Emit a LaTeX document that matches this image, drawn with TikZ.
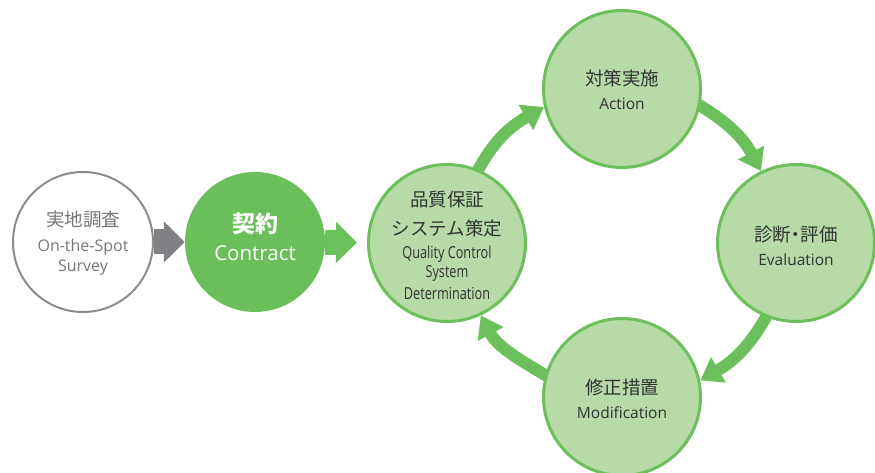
\documentclass[tikz,border=0pt]{standalone}
\usepackage{fontspec}
\setmainfont{Open Sans}
\newfontfamily\jp{Noto Sans CJK JP}
\usetikzlibrary{arrows.meta,backgrounds}
\definecolor{gdark}{HTML}{6ABF5B}
\definecolor{glight}{HTML}{B6DBA6}
\definecolor{gline}{HTML}{6CC05C}
\definecolor{garrow}{HTML}{808085}
\definecolor{gring}{HTML}{8C8C8C}
\definecolor{tgray}{HTML}{777777}
\definecolor{tdark}{HTML}{333333}
\tikzset{
  ring/.style={circle, draw=gline, line width=3pt, fill=glight, minimum size=157pt, inner sep=0pt},
  cyc/.style={draw=gline, line width=12pt, -{Triangle[width=28pt,length=21pt]}, shorten <=-8pt},
  blockarrow/.style={line width=25pt, -{Triangle[width=40pt,length=21pt]}},
  jt/.style={font=\jp\fontsize{18.5}{20}\selectfont, text=tdark, inner sep=0pt},
  et/.style={font=\fontsize{15.5}{18}\selectfont, text=tdark, inner sep=0pt},
  qt/.style={font=\fontsize{16.5}{18}\selectfont, text=tdark, inner sep=0pt},
}
\begin{document}
\begin{tikzpicture}[x=1pt,y=1pt]
\useasboundingbox (0,0) rectangle (875,473);
% circles
\node[circle, draw=gring, line width=2pt, fill=white, minimum size=140pt, inner sep=0pt] (n1) at (83,231) {};
\node[circle, fill=gdark, minimum size=140pt, inner sep=0pt] (n2) at (255,231) {};
\node[ring] (n3) at (447,230) {};
\node[ring] (n4) at (622,384) {};
\node[ring] (n5) at (796,230) {};
\node[ring] (n6) at (622,76) {};
% arrows
\begin{scope}[on background layer]
\draw[blockarrow, draw=garrow] (n1) -- (n2);
\draw[blockarrow, draw=gline, shorten >=10pt] (n2) -- (n3);
\draw[cyc] (n3.67) to[out=63,in=210] (n4.193);
\draw[cyc] (n4.-12) to[out=-30,in=118] (n5.116);
\draw[cyc] (n5.248) to[out=242,in=30] (n6.12);
\draw[cyc] (n6.164) to[out=150,in=-62] (n3.295);
\end{scope}
% texts
\node[jt, text=tgray] (t1a) at (83,253) {実地調査};
\node[et, text=tgray, font=\fontsize{16}{18}\selectfont] (t1b) at (83,226) {On-the-Spot};
\node[et, text=tgray, font=\fontsize{16}{18}\selectfont] (t1c) at (83,205) {Survey};
\node[jt, text=white, font=\jp\bfseries\fontsize{23}{25}\selectfont] (t2a) at (255,249) {契約};
\node[et, text=white, font=\fontsize{20.5}{22}\selectfont] (t2b) at (255,220) {Contract};
\node[jt] (t3a) at (447,273) {品質保証};
\node[jt] (t3b) at (447,245) {システム策定};
\node[qt] (t3c) at (447,219) {\scalebox{0.77}[1]{Quality Control}};
\node[qt] (t3d) at (447,199) {\scalebox{0.77}[1]{System}};
\node[qt] (t3e) at (447,179) {\scalebox{0.77}[1]{Determination}};
\node[jt] (t4a) at (622,395) {対策実施};
\node[et] (t4b) at (622,369) {Action};
\node[jt] (t5a) at (796,238) {診断\kern-0.25em・\kern-0.25em評価};
\node[et] (t5b) at (796,213) {Evaluation};
\node[jt] (t6a) at (622,86) {修正措置};
\node[et] (t6b) at (622,60) {Modification};
\end{tikzpicture}
\end{document}
